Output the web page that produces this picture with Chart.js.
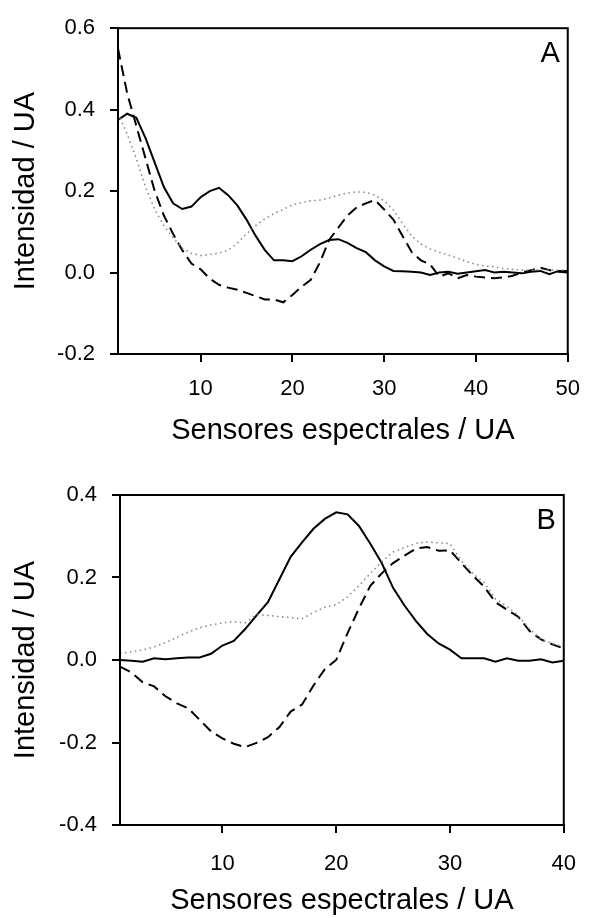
<!DOCTYPE html>
<html>
<head>
<meta charset="utf-8">
<script src="https://cdn.jsdelivr.net/npm/chart.js@4"></script>
<style>
  html, body { margin: 0; padding: 0; background: #fff; }
  canvas { display: block; }
</style>
</head>
<body>
<canvas id="chartA" width="594" height="459"></canvas>
<canvas id="chartB" width="594" height="459"></canvas>
<script>
// panel A: 50 spectral sensors
var sensorsA = [1,2,3,4,5,6,7,8,9,10,11,12,13,14,15,16,17,18,19,20,21,22,23,24,25,
  26,27,28,29,30,31,32,33,34,35,36,37,38,39,40,41,42,43,44,45,46,47,48,49,50];
var solidA = [0.375,0.39,0.38,0.33,0.27,0.21,0.17,0.156,0.162,0.185,0.20,0.208,0.19,0.165,0.13,
  0.09,0.055,0.03,0.03,0.028,0.04,0.056,0.07,0.08,0.082,0.073,0.06,0.05,0.03,0.015,
  0.004,0.003,0.002,0.0,-0.006,0.0,0.002,-0.003,0.0,0.003,0.006,0.0,0.002,0.0,-0.002,
  0.002,0.004,-0.004,0.004,0.004];
var dashedA = [0.55,0.44,0.36,0.28,0.20,0.14,0.095,0.055,0.022,0.008,-0.015,-0.03,-0.037,-0.042,-0.05,
  -0.058,-0.066,-0.066,-0.073,-0.055,-0.035,-0.018,0.025,0.08,0.11,0.14,0.16,0.17,0.178,0.155,
  0.13,0.09,0.05,0.03,0.02,-0.01,-0.002,-0.014,-0.006,-0.01,-0.012,-0.014,-0.012,-0.008,0.0,
  0.006,0.012,0.006,0.002,0.0];
var dottedA = [0.39,0.34,0.28,0.21,0.155,0.115,0.085,0.06,0.047,0.042,0.044,0.048,0.055,0.072,0.095,
  0.115,0.132,0.145,0.155,0.166,0.172,0.176,0.178,0.183,0.19,0.195,0.198,0.197,0.19,0.176,
  0.154,0.12,0.09,0.07,0.058,0.05,0.043,0.035,0.027,0.02,0.016,0.014,0.01,0.008,0.006,
  0.006,0.007,0.006,0.006,0.006];
var xTicksA = [10, 20, 30, 40, 50];
var yTicksA = [-0.2, 0, 0.2, 0.4, 0.6];

// panel B: 40 spectral sensors
var sensorsB = [1,2,3,4,5,6,7,8,9,10,11,12,13,14,15,16,17,18,19,20,
  21,22,23,24,25,26,27,28,29,30,31,32,33,34,35,36,37,38,39,40];
var solidB = [0,-0.002,-0.004,0.004,0.002,0.004,0.006,0.006,0.015,0.035,0.046,0.075,0.108,0.14,0.195,
  0.25,0.285,0.318,0.342,0.358,0.353,0.325,0.282,0.235,0.175,0.132,0.095,0.063,0.04,0.025,
  0.004,0.004,0.004,-0.004,0.004,-0.002,-0.002,0.002,-0.006,-0.002];
var dashedB = [-0.016,-0.03,-0.054,-0.064,-0.088,-0.105,-0.117,-0.145,-0.173,-0.19,-0.203,-0.211,-0.201,-0.187,-0.163,
  -0.125,-0.108,-0.062,-0.022,0.0,0.065,0.125,0.18,0.21,0.235,0.253,0.27,0.274,0.265,0.266,
  0.235,0.205,0.178,0.14,0.122,0.105,0.07,0.05,0.038,0.028];
var dottedB = [0.016,0.02,0.024,0.032,0.042,0.055,0.068,0.078,0.085,0.09,0.093,0.09,0.11,0.108,0.105,
  0.103,0.1,0.115,0.128,0.134,0.153,0.18,0.21,0.238,0.262,0.272,0.283,0.286,0.284,0.282,
  0.24,0.21,0.188,0.148,0.13,0.108,0.075,0.05,0.04,0.032];
var xTicksB = [10, 20, 30, 40];
var yTicksB = [-0.4, -0.2, 0, 0.2, 0.4];

var FONT = '"Liberation Sans", Arial, sans-serif';

function pts(xs, ys) {
  return xs.map(function (x, i) { return { x: x, y: ys[i] }; });
}

// box round the plot and the panel letter
var framePlugin = {
  id: 'frame',
  afterDraw: function (chart, args, opts) {
    var ctx = chart.ctx, a = chart.chartArea;
    ctx.save();
    ctx.strokeStyle = '#000';
    ctx.lineWidth = 2;
    ctx.strokeRect(a.left, a.top, a.right - a.left, a.bottom - a.top);
    ctx.fillStyle = '#000';
    ctx.font = '29px ' + FONT;
    ctx.textAlign = 'right';
    ctx.textBaseline = 'top';
    ctx.fillText(opts.letter, a.right - 8, a.top + 11);
    ctx.restore();
  }
};

function makeChart(id, xs, solid, dashed, dotted, xTicks, yTicks, o) {
  var axisGrid = { display: true, drawOnChartArea: false, drawTicks: true, tickLength: 8, color: '#000', lineWidth: 2 };
  return new Chart(document.getElementById(id), {
    type: 'line',
    data: {
      datasets: [
        { data: pts(xs, dotted), borderColor: '#8a8a8a', borderWidth: 1.6, borderDash: [1.5, 3.5] },
        { data: pts(xs, dashed), borderColor: '#000', borderWidth: 2, borderDash: [11, 6] },
        { data: pts(xs, solid), borderColor: '#000', borderWidth: 2 }
      ]
    },
    options: {
      responsive: false,
      animation: false,
      layout: { padding: { top: o.top, right: o.right, left: 0, bottom: 0 } },
      elements: { point: { radius: 0 }, line: { tension: 0 } },
      plugins: { legend: { display: false }, tooltip: { enabled: false }, frame: { letter: o.letter } },
      scales: {
        x: {
          type: 'linear',
          min: xs[0],
          max: xs[xs.length - 1],
          grid: axisGrid,
          border: { display: true, color: '#000', width: 2 },
          afterBuildTicks: function (s) { s.ticks = xTicks.map(function (v) { return { value: v }; }); },
          afterFit: function (s) { s.height = o.xHeight; },
          ticks: { color: '#000', font: { family: FONT, size: 22 }, padding: o.xPad, maxRotation: 0 },
          title: { display: true, text: 'Sensores espectrales / UA', color: '#000',
                   font: { family: FONT, size: 29 }, padding: { top: 0, bottom: o.titlePad } }
        },
        y: {
          min: yTicks[0],
          max: yTicks[yTicks.length - 1],
          grid: axisGrid,
          border: { display: true, color: '#000', width: 2 },
          afterBuildTicks: function (s) { s.ticks = yTicks.map(function (v) { return { value: v }; }); },
          afterFit: function (s) { s.width = o.yWidth; },
          ticks: { color: '#000', font: { family: FONT, size: 22 }, padding: 15,
                   callback: function (v) { return v.toFixed(1); } },
          title: { display: true, text: 'Intensidad / UA', color: '#000',
                   font: { family: FONT, size: 29 }, padding: { top: 9, bottom: 0 } }
        }
      }
    },
    plugins: [framePlugin]
  });
}

makeChart('chartA', sensorsA, solidA, dashedA, dottedA, xTicksA, yTicksA,
  { top: 21, right: 16, xHeight: 105, yWidth: 118, xPad: 14, titlePad: 11, letter: 'A' });
makeChart('chartB', sensorsB, solidB, dashedB, dottedB, xTicksB, yTicksB,
  { top: 36, right: 14, xHeight: 93, yWidth: 120, xPad: 18, titlePad: 0, letter: 'B' });
</script>
</body>
</html>
